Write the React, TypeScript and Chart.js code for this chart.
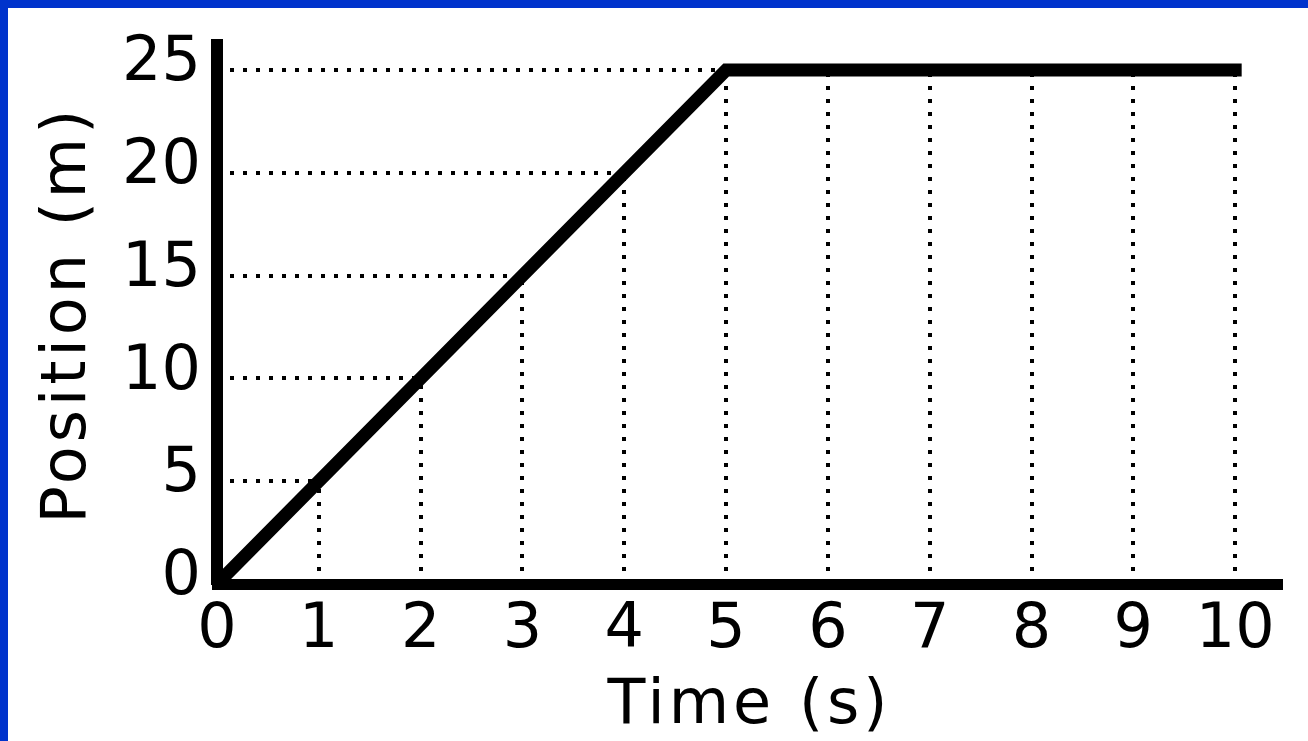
import React, { useEffect, useRef } from "react";
import { Chart, registerables } from "chart.js";

Chart.register(...registerables);

// ---- data ----
const timeValues = [0, 5, 10];
const positionValues = [0, 25, 25];
const xTickValues = [0, 1, 2, 3, 4, 5, 6, 7, 8, 9, 10];
const yTickValues = [0, 5, 10, 15, 20, 25];
const xTitle = "Time (s)";
const yTitle = "Position (m)";

const FONT = "DejaVu Sans";

function positionAt(t: number): number | null {
  for (let i = 0; i < timeValues.length - 1; i++) {
    const t0 = timeValues[i], t1 = timeValues[i + 1];
    if (t >= t0 && t <= t1) {
      const f = (t - t0) / (t1 - t0);
      return positionValues[i] + f * (positionValues[i + 1] - positionValues[i]);
    }
  }
  return null;
}

function timeAt(p: number): number | null {
  for (let i = 0; i < positionValues.length - 1; i++) {
    const p0 = positionValues[i], p1 = positionValues[i + 1];
    if (p1 !== p0 && p >= Math.min(p0, p1) && p <= Math.max(p0, p1)) {
      const f = (p - p0) / (p1 - p0);
      return timeValues[i] + f * (timeValues[i + 1] - timeValues[i]);
    }
  }
  return null;
}

// dotted reading lines from the axes to the curve
const dropLines = {
  id: "dropLines",
  beforeDatasetsDraw(chart: any) {
    const ctx = chart.ctx as CanvasRenderingContext2D;
    (ctx as any).letterSpacing = "0px";
    const xs = chart.scales.x;
    const ys = chart.scales.y;
    ctx.save();
    ctx.strokeStyle = "#000";
    ctx.lineWidth = 4;
    ctx.lineCap = "butt";
    ctx.setLineDash([4, 9]);
    const y0 = ys.getPixelForValue(0);
    const x0 = xs.getPixelForValue(0);
    for (const v of xTickValues) {
      if (v <= 0) continue;
      const p = positionAt(v);
      if (p === null) continue;
      const px = Math.round(xs.getPixelForValue(v));
      ctx.beginPath();
      ctx.moveTo(px, y0);
      ctx.lineTo(px, ys.getPixelForValue(p));
      ctx.stroke();
    }
    for (const v of yTickValues) {
      if (v <= 0) continue;
      const t = timeAt(v);
      if (t === null) continue;
      const py = Math.round(ys.getPixelForValue(v));
      ctx.beginPath();
      ctx.moveTo(x0, py);
      ctx.lineTo(xs.getPixelForValue(t), py);
      ctx.stroke();
    }
    ctx.restore();
  },
};

// wider letter spacing for the axis titles only (drawn in the grid layer)
const titleSpacing = {
  id: "titleSpacing",
  beforeDraw(chart: any) {
    (chart.ctx as any).letterSpacing = "4px";
  },
  afterDraw(chart: any) {
    (chart.ctx as any).letterSpacing = "0px";
  },
};

export default function App() {
  const ref = useRef<HTMLCanvasElement>(null);

  useEffect(() => {
    document.body.style.margin = "0";
    const canvas = ref.current!;
    const chart = new Chart(canvas, {
      type: "line",
      data: {
        datasets: [
          {
            data: timeValues.map((t, i) => ({ x: t, y: positionValues[i] })),
            borderColor: "#000",
            borderWidth: 13,
            borderCapStyle: "square",
            borderJoinStyle: "miter",
            pointRadius: 0,
            tension: 0,
            fill: false,
          },
        ],
      },
      options: {
        animation: false,
        responsive: false,
        maintainAspectRatio: false,
        layout: { padding: { top: 37, right: 26, bottom: 0, left: 0 } },
        plugins: {
          legend: { display: false },
          tooltip: { enabled: false },
        },
        scales: {
          x: {
            type: "linear",
            min: 0,
            max: 10.46,
            afterBuildTicks: (s: any) => {
              s.ticks = xTickValues.map((v) => ({ value: v }));
            },
            afterFit: (s: any) => {
              s.height = 157;
              s.paddingLeft = 0;
              s.paddingRight = 0;
            },
            grid: { display: false, drawTicks: false },
            border: { display: true, color: "#000", width: 11 },
            ticks: {
              z: 1,
              color: "#000",
              padding: 10,
              maxRotation: 0,
              autoSkip: false,
              font: { family: FONT, size: 62 },
            },
            title: {
              display: true,
              text: xTitle,
              color: "#000",
              font: { family: FONT, size: 62, lineHeight: 1 },
              padding: { top: 0, bottom: 3 },
            },
          },
          y: {
            type: "linear",
            min: 0,
            max: 26.22,
            afterBuildTicks: (s: any) => {
              s.ticks = yTickValues.map((v) => ({ value: v }));
            },
            afterFit: (s: any) => {
              s.width = 209;
              s.paddingTop = 0;
              s.paddingBottom = 0;
            },
            grid: { display: false, drawTicks: false },
            border: { display: true, color: "#000", width: 12 },
            ticks: {
              z: 1,
              color: "#000",
              padding: 16,
              labelOffset: -6,
              font: { family: FONT, size: 62 },
            },
            title: {
              display: true,
              text: yTitle,
              color: "#000",
              font: { family: FONT, size: 62, lineHeight: 1 },
              padding: { top: 30, bottom: 0 },
            },
          },
        },
      } as any,
      plugins: [titleSpacing, dropLines],
    });
    return () => chart.destroy();
  }, []);

  return (
    <div
      style={{
        position: "absolute",
        left: 0,
        top: 0,
        width: 1308,
        height: 741,
        background: "#0033cc",
        overflow: "hidden",
      }}
    >
      <canvas
        ref={ref}
        width={1300}
        height={733}
        style={{
          position: "absolute",
          left: 8,
          top: 8,
          width: 1300,
          height: 733,
          background: "#fff",
          display: "block",
        }}
      />
    </div>
  );
}
